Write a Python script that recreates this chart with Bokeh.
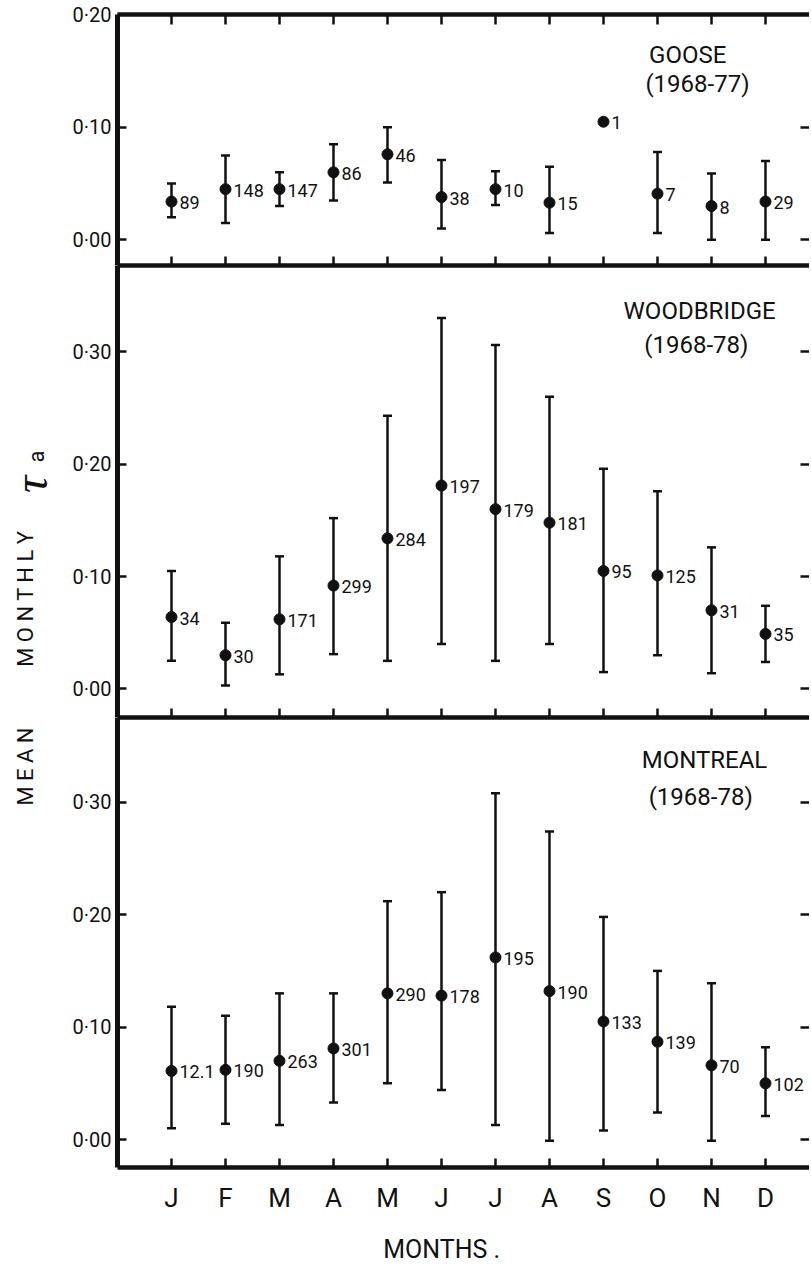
import math
from bokeh.plotting import figure
from bokeh.layouts import column, row
from bokeh.models import Range1d, FixedTicker, LinearAxis, Label
from bokeh.core.properties import value
from bokeh.embed import file_html
from bokeh.resources import INLINE

nan = float("nan")

# ---------------- data ----------------
months = ["J", "F", "M", "A", "M", "J", "J", "A", "S", "O", "N", "D"]
month_pos = [1, 2, 3, 4, 5, 6, 7, 8, 9, 10, 11, 12]

goose_mean = [0.034, 0.045, 0.045, 0.060, 0.076, 0.038, 0.045, 0.033, 0.105, 0.041, 0.030, 0.034]
goose_hi = [0.050, 0.075, 0.060, 0.085, 0.100, 0.071, 0.061, 0.065, nan, 0.078, 0.059, 0.070]
goose_lo = [0.020, 0.015, 0.030, 0.035, 0.051, 0.010, 0.031, 0.006, nan, 0.006, 0.000, 0.000]
goose_n = ["89", "148", "147", "86", "46", "38", "10", "15", "1", "7", "8", "29"]

wood_mean = [0.064, 0.030, 0.062, 0.092, 0.134, 0.181, 0.160, 0.148, 0.105, 0.101, 0.070, 0.049]
wood_hi = [0.105, 0.059, 0.118, 0.152, 0.243, 0.330, 0.306, 0.260, 0.196, 0.176, 0.126, 0.074]
wood_lo = [0.025, 0.003, 0.013, 0.031, 0.025, 0.040, 0.025, 0.040, 0.015, 0.030, 0.014, 0.024]
wood_n = ["34", "30", "171", "299", "284", "197", "179", "181", "95", "125", "31", "35"]

mont_mean = [0.061, 0.062, 0.070, 0.081, 0.130, 0.128, 0.162, 0.132, 0.105, 0.087, 0.066, 0.050]
mont_hi = [0.118, 0.110, 0.130, 0.130, 0.212, 0.220, 0.308, 0.274, 0.198, 0.150, 0.139, 0.082]
mont_lo = [0.010, 0.014, 0.013, 0.033, 0.050, 0.044, 0.013, -0.001, 0.008, 0.024, -0.001, 0.021]
mont_n = ["12.1", "190", "263", "301", "290", "178", "195", "190", "133", "139", "70", "102"]

yticks_top = [0.0, 0.1, 0.2]
ylabels_top = ["0·00", "0·10", "0·20"]
yticks_big = [0.0, 0.1, 0.2, 0.3]
ylabels_big = ["0·00", "0·10", "0·20", "0·30"]

station_names = ["GOOSE", "WOODBRIDGE", "MONTREAL"]
station_years = ["(1968-77)", "(1968-78)", "(1968-78)"]
x_title = "MONTHS ."
y_title_words = ["M E A N", "M O N T H L Y"]
y_title_symbol = "τ"
y_title_sub = "a"

FONT = "Roboto"
INK = "#111111"
STRIP_W = 64
FRAME_W = 692
X_END = 12.815


def blank_axis(ticks, tick_in, line_width):
    return LinearAxis(
        ticker=FixedTicker(ticks=ticks),
        axis_line_width=line_width,
        axis_line_color=INK if line_width > 0 else None,
        major_tick_in=tick_in,
        major_tick_out=0,
        major_tick_line_width=2.5,
        major_tick_line_color=INK if tick_in > 0 else None,
        minor_tick_line_color=None,
        major_label_text_font_size="1px",
        major_label_text_color=None,
        major_label_standoff=0,
    )


def make_panel(mean, hi, lo, ns, yticks, ylabels, yr, frame_h, top_b, bottom_b,
               top_ticks, month_labels):
    p = figure(
        frame_width=FRAME_W, frame_height=frame_h,
        x_range=Range1d(0, X_END), y_range=Range1d(*yr),
        output_backend="svg", toolbar_location=None,
        x_axis_location=None, y_axis_location=None,
        min_border_left=117 - STRIP_W, min_border_right=0,
        min_border_top=top_b, min_border_bottom=bottom_b,
        background_fill_color="white", border_fill_color="white",
    )
    p.outline_line_color = None
    p.grid.grid_line_color = None

    ya = LinearAxis(
        ticker=FixedTicker(ticks=yticks),
        major_label_overrides={t: l for t, l in zip(yticks, ylabels)},
        axis_line_width=5, axis_line_color=INK,
        major_tick_in=9, major_tick_out=0, major_tick_line_width=2.5,
        major_tick_line_color=INK, minor_tick_line_color=None,
        major_label_standoff=6,
        major_label_text_font=FONT, major_label_text_font_size="20px",
        major_label_text_color=INK,
    )
    p.add_layout(ya, "left")
    p.add_layout(blank_axis(yticks, 9, 0), "right")
    p.add_layout(blank_axis(month_pos, 10 if top_ticks else 0, 4.5), "above")

    if month_labels:
        xa = LinearAxis(
            ticker=FixedTicker(ticks=month_pos),
            major_label_overrides={m: t for m, t in zip(month_pos, months)},
            axis_line_width=4.5, axis_line_color=INK,
            major_tick_in=9, major_tick_out=0, major_tick_line_width=2.5,
            major_tick_line_color=INK, minor_tick_line_color=None,
            major_label_standoff=15,
            major_label_text_font=FONT, major_label_text_font_size="26px",
            major_label_text_color=INK,
        )
        p.add_layout(xa, "below")
    else:
        p.add_layout(blank_axis(month_pos, 9, 4.5), "below")

    p.segment(x0=month_pos, y0=lo, x1=month_pos, y1=hi, line_width=2.5, line_color=INK)
    p.scatter(x=month_pos, y=hi, marker="dash", size=9, line_width=2.5, line_color=INK)
    p.scatter(x=month_pos, y=lo, marker="dash", size=9, line_width=2.5, line_color=INK)
    p.scatter(x=month_pos, y=mean, size=11, fill_color=INK, line_color=INK)
    p.text(x=month_pos, y=mean, text=ns, x_offset=8, y_offset=1,
           text_baseline="middle", text_align="left",
           text_font=value(FONT), text_font_size="18px", text_color=INK)
    return p


def title(p, txt, x, y):
    p.add_layout(Label(x=x, y=y, text=txt, text_align="center", text_baseline="middle",
                       text_font=FONT, text_font_size="24px", text_color=INK))


def strip(w, h):
    s = figure(width=w, height=h, x_range=Range1d(0, w), y_range=Range1d(0, h),
               output_backend="svg", toolbar_location=None,
               x_axis_location=None, y_axis_location=None,
               min_border=0, background_fill_color="white", border_fill_color="white")
    s.outline_line_color = None
    s.grid.grid_line_color = None
    return s


top = make_panel(goose_mean, goose_hi, goose_lo, goose_n, yticks_top, ylabels_top,
                 (-0.0229, 0.2004), 251, 14, 0, True, False)
mid = make_panel(wood_mean, wood_hi, wood_lo, wood_n, yticks_big, ylabels_big,
                 (-0.0254, 0.3768), 452, 0, 0, False, False)
bot = make_panel(mont_mean, mont_hi, mont_lo, mont_n, yticks_big, ylabels_big,
                 (-0.0249, 0.3754), 450, 0, 60, False, True)

title(top, station_names[0], 10.56, 0.164)
title(top, station_years[0], 10.74, 0.139)
title(mid, station_names[1], 10.78, 0.336)
title(mid, station_years[1], 10.72, 0.306)
title(bot, station_names[2], 10.87, 0.338)
title(bot, station_years[2], 10.80, 0.305)

# bottom strip with the x title (strip pixels, origin bottom-left)
xs = strip(811 - STRIP_W, 41)
xs.text(x=[286], y=[19], text=[x_title], text_align="left", text_baseline="middle",
        text_font=value(FONT), text_font_size="25px", text_color=INK)

# left strip with the y title (strip pixels, origin bottom-left)
ys = strip(STRIP_W, 1268)
ys.text(x=[25, 25], y=[502, 670], text=y_title_words, angle=math.pi / 2,
        text_align="center", text_baseline="middle",
        text_font=value(FONT), text_font_size="22px", text_color=INK)
ys.text(x=[30], y=[784], text=[y_title_symbol], angle=math.pi / 2,
        text_align="center", text_baseline="middle",
        text_font=value("Liberation Serif"), text_font_style="italic",
        text_font_size="48px", text_color=INK)
ys.text(x=[36], y=[812], text=[y_title_sub], angle=math.pi / 2,
        text_align="center", text_baseline="middle",
        text_font=value(FONT), text_font_size="22px", text_color=INK)

layout = row(ys, column(top, mid, bot, xs))
open("out.html", "w").write(file_html(layout, INLINE))
